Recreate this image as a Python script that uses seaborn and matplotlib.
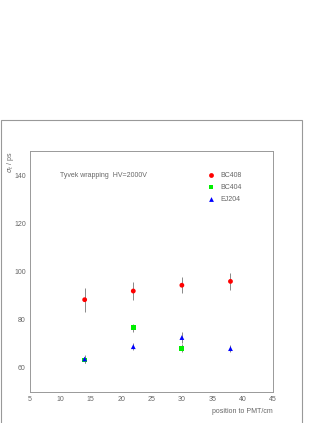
import numpy as np
import pandas as pd
import matplotlib
matplotlib.use("Agg")
import matplotlib.pyplot as plt
import seaborn as sns
from matplotlib.patches import Rectangle
from matplotlib.ticker import MultipleLocator

# data
positions = [14, 22, 30, 38]
bc408 = [88.3, 91.9, 94.3, 95.9]
bc408_err = [4.9, 3.8, 3.4, 3.6]
bc404_pos = [14, 22, 30]
bc404 = [63.3, 76.7, 68.2]
bc404_err = [1.3, 1.7, 1.6]
ej204 = [63.7, 68.8, 72.6, 68.0]
ej204_err = [1.5, 1.5, 2.2, 1.6]

df = pd.concat([
    pd.DataFrame({"pos": positions, "sigma": bc408, "err": bc408_err, "sample": "BC408"}),
    pd.DataFrame({"pos": bc404_pos, "sigma": bc404, "err": bc404_err, "sample": "BC404"}),
    pd.DataFrame({"pos": positions, "sigma": ej204, "err": ej204_err, "sample": "EJ204"}),
])

sns.set_style("white")
plt.rcParams["font.family"] = ["Liberation Sans", "DejaVu Sans"]
grey = "#666666"

fig = plt.figure(figsize=(3.27, 4.23), dpi=100)
W, H = 327, 423

# outer frame
fig.patches.append(Rectangle((0.5 / W, -0.01), 301.5 / W, (H - 120) / H + 0.01,
                             transform=fig.transFigure, fill=False,
                             edgecolor="#999999", linewidth=0.8))

ax = fig.add_axes([30 / W, (H - 392) / H, 243 / W, 241 / H])

colors = {"BC408": "#ff0000", "BC404": "#00ee00", "EJ204": "#0000ff"}
markers = {"BC408": "o", "BC404": "s", "EJ204": "^"}

for name, sub in df.groupby("sample", sort=False):
    ax.errorbar(sub["pos"], sub["sigma"], yerr=sub["err"], fmt="none",
                ecolor="#888888", elinewidth=0.7, capsize=0, zorder=1)

sns.scatterplot(data=df, x="pos", y="sigma", hue="sample", style="sample",
                palette=colors, markers=markers, s=12, linewidth=0,
                ax=ax, legend=False, zorder=3)

ax.set_xlim(5, 45)
ax.set_ylim(50, 150)
ax.xaxis.set_major_locator(MultipleLocator(5))
ax.xaxis.set_minor_locator(MultipleLocator(1))
ax.yaxis.set_major_locator(MultipleLocator(20))
ax.yaxis.set_minor_locator(MultipleLocator(5))
ax.set_yticks([60, 80, 100, 120, 140])
ax.tick_params(which="major", direction="in", length=3, width=0.6,
               colors="#888888", labelcolor=grey, labelsize=5, pad=3)
ax.tick_params(which="minor", direction="in", length=1.5, width=0.5,
               colors="#888888")
for sp in ax.spines.values():
    sp.set_color("#999999")
    sp.set_linewidth(0.7)

ax.set_xlabel("")
ax.set_ylabel("")
ax.text(1.0, -0.065, "position to PMT/cm", transform=ax.transAxes,
        ha="right", va="top", fontsize=5, color=grey)
ax.text(-0.08, 1.0, r"$\sigma_t$ / ps", transform=ax.transAxes, rotation=90,
        ha="center", va="top", fontsize=5, color=grey)
ax.text(9.9, 140, "Tyvek wrapping  HV=2000V", ha="left", va="center",
        fontsize=5, color=grey)

for i, name in enumerate(["BC408", "BC404", "EJ204"]):
    yy = 140 - i * 5
    ax.scatter([34.8], [yy], color=colors[name], marker=markers[name], s=12,
               linewidth=0, zorder=3)
    ax.text(36.4, yy, name, ha="left", va="center", fontsize=5, color=grey)

fig.savefig("out.png", dpi=100)
